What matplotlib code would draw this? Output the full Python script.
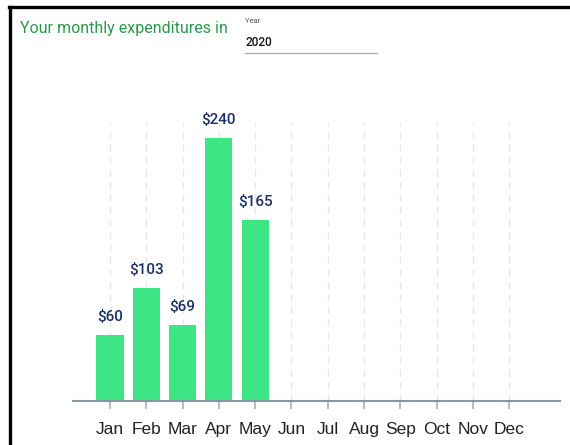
import matplotlib
matplotlib.use("Agg")
import matplotlib.pyplot as plt
from matplotlib.lines import Line2D
import numpy as np

# monthly spending for the selected year
months = ["Jan", "Feb", "Mar", "Apr", "May", "Jun",
          "Jul", "Aug", "Sep", "Oct", "Nov", "Dec"]
spent = [60, 103, 69, 240, 165, 0, 0, 0, 0, 0, 0, 0]
year = "2020"

plt.rcParams['font.family'] = ['Roboto', 'DejaVu Sans']

fig = plt.figure(figsize=(5.7, 4.45), dpi=100)
W, H = 570.0, 445.0
ax = fig.add_axes([73 / W, 44 / H, (560 - 73) / W, (401 - 123) / H])

x = np.arange(len(months))
vals = np.array(spent)

# dashed guide lines behind the bars
for xi in x:
    ax.axvline(xi, color="#e3e6ea", lw=1.0, ls=(0, (5, 4)), zorder=0)

shown = vals > 0
ax.bar(x[shown], vals[shown], width=0.75, color="#3de584", zorder=2)

for xi, v in zip(x[shown], vals[shown]):
    ax.annotate("${}".format(v), (xi, v), xytext=(0, 13.5),
                textcoords="offset points", ha="center", va="center",
                fontsize=11, color="#1c2f6b", fontweight="medium")

ax.set_xlim(-1.02, 12.40)
ax.set_ylim(0, 254)
ax.set_xticks(x)
ax.set_xticklabels(months, fontsize=12.5, color="#222222",
                   family=["Liberation Sans", "DejaVu Sans"])
ax.set_yticks([])
for side in ["top", "right", "left"]:
    ax.spines[side].set_visible(False)
ax.spines["bottom"].set_color("#8a96a2")
ax.spines["bottom"].set_linewidth(1.5)
ax.tick_params(axis="x", length=6, width=1.2, color="#a9b1ba", pad=9)

# header: title, year picker
fig.text(20 / W, 1 - 28 / H, "Your monthly expenditures in", fontsize=11.5,
         color="#2a994c", va="center", ha="left")
fig.text(245 / W, 1 - 21 / H, "Year", fontsize=5.5, color="#555555",
         va="center", ha="left")
fig.text(245 / W, 1 - 42 / H, year, fontsize=8.5, color="#111111",
         fontweight="medium", va="center", ha="left")
fig.add_artist(Line2D([245 / W, 377 / W], [1 - 52.5 / H, 1 - 52.5 / H],
                      color="#a8a8a8", lw=0.9))

# panel frame on the left and top
fig.add_artist(Line2D([10 / W, 10 / W], [0, 1 - 7 / H], color="black", lw=2.4))
fig.add_artist(Line2D([9 / W, 1], [1 - 7 / H, 1 - 7 / H], color="black", lw=2.4))

fig.savefig("out.png", dpi=100)
